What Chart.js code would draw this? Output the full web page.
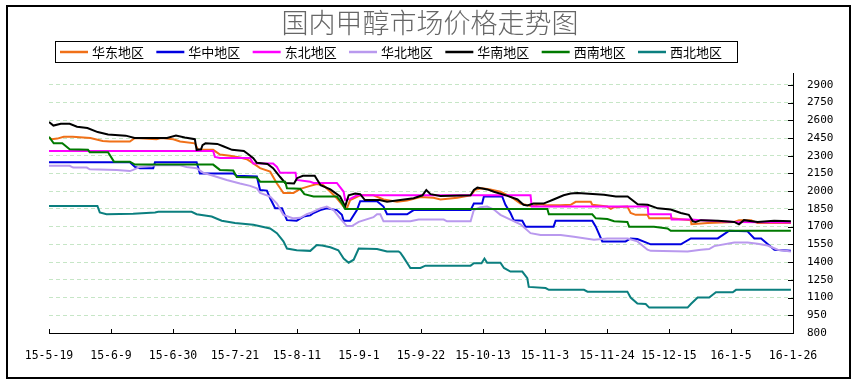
<!DOCTYPE html>
<html><head><meta charset="utf-8">
<script src="https://cdn.jsdelivr.net/npm/chart.js@4.4.1/dist/chart.umd.min.js"></script>
<style>html,body{margin:0;padding:0;background:#fff}#wrap{width:860px;height:384px}</style>
</head><body><div id="wrap"><canvas id="c" width="860" height="384"></canvas></div>
<script>
const chartTitle = '国内甲醇市场价格走势图';
const tickLabels = ['15-5-19','15-6-9','15-6-30','15-7-21','15-8-11','15-9-1','15-9-22','15-10-13','15-11-3','15-11-24','15-12-15','16-1-5','16-1-26'];
const yTickValues = [800,950,1100,1250,1400,1550,1700,1850,2000,2150,2300,2450,2600,2750,2900];
const seriesNames = ['华东地区','华中地区','东北地区','华北地区','华南地区','西南地区','西北地区'];
const seriesColors = ['#f07018','#0000e0','#ff00ff','#b999ee','#000000','#007a00','#0b7f7f'];
const daysPerLabel = 21;

// [day since 15-5-19, price]
const eastPts = [[0,2450],[1,2440],[2.8,2445],[5,2460],[8,2460],[14,2450],[18.2,2425],[20.6,2420],[27.4,2420],[29.1,2450],[36.4,2440],[38,2450],[42.1,2440],[44.4,2420],[49.4,2405],[50.5,2350],[55.6,2350],[57.9,2310],[61.3,2300],[64.7,2285],[67,2270],[69.2,2235],[71.5,2195],[74.9,2165],[77.2,2065],[79.4,1985],[82.8,1985],[85.1,2020],[88.5,2045],[90.7,2060],[92.9,2050],[95.3,1995],[97.5,1940],[99.8,1870],[100.9,1855],[102,1925],[105.4,1965],[109.9,1965],[113.3,1930],[117.9,1910],[121.3,1920],[125.8,1950],[130.2,1945],[132.6,1930],[138.3,1945],[142.8,1965],[144.5,2015],[146.7,2025],[149.5,2015],[152.9,1995],[156.3,1955],[159.7,1895],[163.1,1875],[166.5,1890],[168.8,1880],[173.3,1880],[176.7,1885],[178.4,1910],[183.5,1910],[184,1885],[189.1,1870],[190.3,1850],[191.4,1865],[195.9,1870],[197,1815],[198.7,1800],[202.7,1800],[203.3,1770],[210.6,1770],[217.4,1755],[217.6,1720],[223.1,1730],[232.1,1740],[233.7,1755],[237.8,1755],[240,1730],[251.3,1730]];
const centralPts = [[0,2245],[27.4,2245],[29.1,2205],[30.8,2195],[35.3,2195],[35.9,2245],[50,2245],[51.1,2150],[62.4,2150],[63.6,2130],[70.4,2125],[71.5,2010],[73.8,2005],[74.9,1940],[76.6,1855],[78.9,1855],[80.6,1755],[83.9,1750],[86.2,1785],[88.5,1795],[89.6,1815],[91.9,1840],[94.1,1855],[97.5,1840],[99.2,1800],[99.8,1750],[102,1750],[104.3,1840],[105.4,1915],[111.1,1915],[113.3,1870],[114.5,1805],[121.3,1805],[123.5,1840],[142.8,1840],[143.9,1895],[146.7,1895],[147.3,1955],[153.5,1955],[154.6,1885],[156.3,1815],[157.4,1755],[160.3,1750],[161.4,1700],[170.9,1700],[171.6,1750],[184,1750],[185.2,1700],[187.4,1575],[195.3,1575],[197,1600],[199.3,1595],[203.8,1550],[214,1550],[217.4,1600],[226.5,1600],[230.4,1665],[236.6,1660],[238.9,1600],[241.2,1600],[245.7,1505],[251.3,1495]];
const northeastPts = [[0,2340],[55.6,2340],[56.2,2290],[57.9,2280],[68.1,2280],[69.2,2235],[75.9,2235],[77.2,2205],[78.3,2155],[83.5,2155],[83.9,2095],[88.5,2080],[89.6,2070],[97.5,2070],[99.8,1995],[100.3,1925],[102,1935],[104.3,1965],[163.1,1965],[163.5,1870],[202.8,1870],[203,1805],[210.6,1805],[210.9,1760],[217.4,1760],[220.8,1755],[232.1,1740],[251.3,1735]];
const northPts = [[0,2215],[7,2215],[8.2,2200],[12.8,2200],[13.8,2185],[22.9,2180],[27.4,2170],[28.5,2180],[30.8,2205],[36.4,2220],[44.4,2220],[46.6,2205],[50,2195],[52.3,2155],[55.6,2130],[60.2,2095],[64.7,2065],[68.1,2045],[70.4,2025],[71.5,1985],[74.9,1955],[77.2,1895],[79.4,1800],[82.8,1770],[85.1,1775],[87.3,1805],[88.5,1815],[91.9,1855],[94.1,1870],[96.4,1840],[98.6,1770],[100.9,1705],[102.6,1705],[104.9,1740],[109.9,1780],[111.1,1805],[112.2,1805],[113.3,1745],[122.4,1745],[125.2,1760],[133.7,1760],[134.8,1745],[142.8,1745],[143.9,1840],[146.1,1865],[148.4,1870],[150.7,1845],[152.9,1800],[156.3,1760],[159.7,1720],[163.1,1645],[166.5,1630],[173.3,1630],[177.8,1615],[184.6,1590],[189.1,1600],[196,1600],[199.3,1575],[202.7,1505],[203.8,1495],[216.3,1490],[220.8,1505],[223.6,1510],[225.3,1535],[232.1,1565],[236.6,1565],[240,1555],[243.4,1540],[246.8,1505],[251.3,1490]];
const southPts = [[0,2585],[1.5,2555],[4,2570],[7,2570],[9.5,2545],[13,2535],[16.5,2500],[20,2480],[26,2470],[29,2450],[40,2450],[43,2470],[46,2455],[49.4,2440],[50,2350],[51.5,2355],[52,2390],[53,2405],[57,2400],[59,2380],[62,2350],[66,2340],[67.4,2315],[69.2,2280],[70.4,2240],[74,2230],[75.9,2195],[78.3,2120],[80,2070],[83,2065],[84,2110],[86,2130],[90,2130],[92,2050],[95.3,2015],[98.6,1955],[100.3,1870],[101.5,1965],[103.7,1980],[105.4,1975],[107,1925],[112,1925],[114.5,1910],[119,1925],[123.5,1940],[126.5,1965],[127.8,2010],[129.2,1975],[132.6,1960],[142.8,1965],[143.9,2010],[145.1,2030],[148.5,2015],[150.7,1995],[155.3,1960],[158.7,1930],[160.7,1885],[162,1880],[164.1,1895],[167.5,1895],[170.9,1930],[174.3,1965],[176.7,1980],[179,1985],[188,1970],[192,1955],[196,1955],[199.4,1890],[202.8,1885],[206.2,1855],[210.6,1845],[214,1815],[216.7,1800],[218.1,1745],[219,1740],[220.8,1755],[226.6,1750],[232.1,1740],[233.7,1720],[235.4,1755],[240,1740],[245.6,1750],[251.3,1745]];
const southwestPts = [[0,2460],[1.6,2405],[4.5,2405],[7,2355],[13.2,2350],[13.8,2330],[20,2330],[22,2250],[27.4,2250],[29.1,2225],[55.6,2225],[57.9,2180],[62.4,2175],[63.6,2120],[70.4,2115],[71.5,2080],[80,2080],[80.6,2025],[85.1,2020],[86.5,1975],[89.6,1955],[97.5,1955],[99.2,1900],[100.3,1850],[168.8,1850],[169.3,1805],[184,1805],[185.2,1770],[189.1,1765],[191.4,1745],[195.9,1740],[196.5,1700],[204.9,1700],[209.5,1685],[210.6,1665],[251.3,1665]];
const northwestPts = [[0,1875],[16.4,1875],[17.2,1820],[19.5,1805],[28.5,1810],[35.9,1820],[37,1825],[48.3,1825],[50,1805],[55.1,1785],[58.5,1750],[63,1730],[69.2,1715],[74.9,1685],[77.2,1645],[79.4,1575],[80.6,1515],[83.9,1500],[88.5,1495],[90.7,1545],[92.5,1540],[95.3,1525],[98,1500],[99.8,1430],[101.5,1395],[103.2,1420],[104.9,1515],[111.1,1510],[114.5,1490],[118.4,1490],[119,1480],[120.1,1440],[122.4,1350],[125.8,1350],[127.5,1370],[142.8,1370],[143.9,1390],[146.5,1390],[147.5,1430],[148.4,1395],[152.9,1395],[154.1,1350],[156.3,1320],[160.3,1320],[162,1265],[162.5,1190],[168.2,1180],[169.3,1165],[181.2,1165],[182.4,1150],[195.9,1150],[197,1100],[199.3,1050],[202.1,1045],[203.3,1015],[216.3,1015],[217.4,1045],[219.7,1100],[223.6,1100],[225.9,1145],[231.6,1145],[232.7,1165],[251.3,1165]];

const allSeries = [eastPts, centralPts, northeastPts, northPts, southPts, southwestPts, northwestPts];

const datasets = allSeries.map((pts, i) => ({
  label: seriesNames[i],
  data: pts.map(p => ({x: p[0], y: p[1]})),
  borderColor: seriesColors[i],
  backgroundColor: seriesColors[i],
  borderWidth: 2,
  pointRadius: 0,
  tension: 0,
  fill: false,
  order: allSeries.length - i
}));

const decor = {
  id: 'decor',
  beforeDraw(chart) {
    const ctx = chart.ctx;
    ctx.save();
    ctx.fillStyle = '#fff';
    ctx.fillRect(0, 0, chart.width, chart.height);
    ctx.restore();
  },
  afterDraw(chart) {
    const ctx = chart.ctx;
    const area = chart.chartArea;
    const xs = chart.scales.x, ys = chart.scales.y;
    ctx.save();
    // outer frame
    ctx.strokeStyle = '#000';
    ctx.lineWidth = 2;
    ctx.strokeRect(7, 6, 843, 372);
    // title
    ctx.font = '300 27px "Noto Sans CJK SC"';
    ctx.fillStyle = '#666';
    ctx.textAlign = 'center';
    ctx.textBaseline = 'middle';
    ctx.fillText(chartTitle, 430, 23);
    // legend
    ctx.lineWidth = 1;
    ctx.strokeStyle = '#000';
    ctx.strokeRect(55.5, 41.5, 682, 21);
    ctx.font = '13px "Noto Sans CJK SC"';
    ctx.textAlign = 'left';
    const step = (638 - 60) / (seriesNames.length - 1);
    seriesNames.forEach((name, i) => {
      const lx = 60 + i * step;
      ctx.strokeStyle = seriesColors[i];
      ctx.lineWidth = 2.5;
      ctx.beginPath();
      ctx.moveTo(lx, 52);
      ctx.lineTo(lx + 28, 52);
      ctx.stroke();
      ctx.fillStyle = '#000';
      ctx.fillText(name, lx + 32, 52);
    });
    // inward tick marks
    ctx.strokeStyle = '#000';
    ctx.lineWidth = 1;
    ys.ticks.forEach(t => {
      const py = Math.round(ys.getPixelForValue(t.value)) + 0.5;
      ctx.beginPath();
      ctx.moveTo(area.right - 5, py);
      ctx.lineTo(area.right, py);
      ctx.stroke();
    });
    xs.ticks.forEach(t => {
      const px = Math.round(xs.getPixelForValue(t.value)) + 0.5;
      ctx.beginPath();
      ctx.moveTo(px, area.bottom - 4);
      ctx.lineTo(px, area.bottom);
      ctx.stroke();
    });
    ctx.restore();
  }
};

new Chart(document.getElementById('c'), {
  type: 'line',
  data: { datasets },
  plugins: [decor],
  options: {
    responsive: false,
    animation: false,
    devicePixelRatio: 1,
    layout: { padding: { left: 49, top: 73, right: 17, bottom: 21 } },
    plugins: { legend: { display: false }, title: { display: false }, tooltip: { enabled: false } },
    scales: {
      x: {
        type: 'linear',
        min: 0,
        max: (tickLabels.length - 1) * daysPerLabel,
        afterBuildTicks: s => { s.ticks = tickLabels.map((l, i) => ({ value: i * daysPerLabel })); },
        afterFit: s => { s.height = 30; },
        grid: { display: false, drawTicks: false },
        border: { display: true, color: '#000', width: 1 },
        ticks: {
          autoSkip: false, maxRotation: 0, padding: 16, color: '#000',
          font: { family: 'DejaVu Sans Mono', size: 11.5 },
          callback: v => tickLabels[Math.round(v / daysPerLabel)]
        }
      },
      y: {
        position: 'right',
        min: 800,
        max: 3000,
        afterBuildTicks: s => { s.ticks = yTickValues.map(v => ({ value: v })); },
        afterFit: s => { s.width = 50; },
        grid: { color: '#c6e6c6', lineWidth: 1, drawTicks: false },
        border: { display: true, color: '#000', width: 1, dash: [4, 3] },
        ticks: {
          autoSkip: false, padding: 14, color: '#000',
          font: { family: 'DejaVu Sans Mono', size: 11 },
          callback: v => String(v)
        }
      }
    }
  }
});
</script>
</body></html>
